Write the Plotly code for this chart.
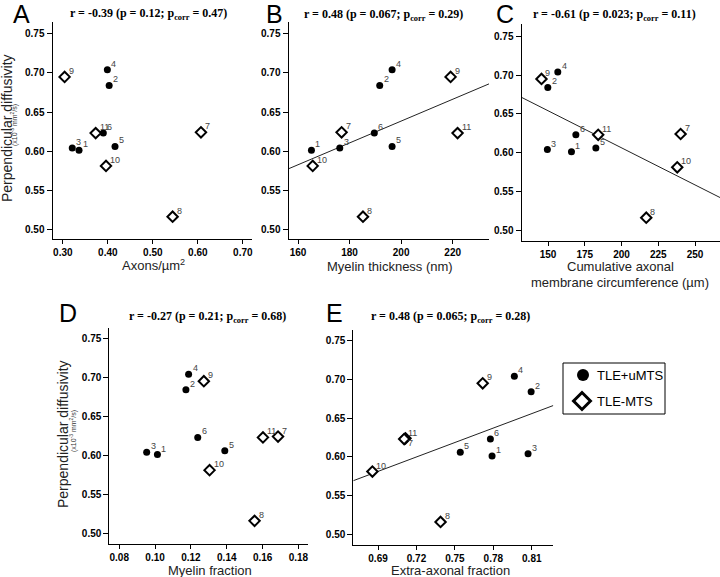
import numpy as np
import plotly.graph_objects as go

# ---------------- data ----------------
ids = [1, 2, 3, 4, 5, 6, 7, 8, 9, 10, 11]
group = ["TLE+uMTS"] * 6 + ["TLE-MTS"] * 5
perp_diff = [0.601, 0.684, 0.604, 0.704, 0.606, 0.623, 0.624, 0.516, 0.695, 0.581, 0.623]

axons_density = [0.336, 0.403, 0.321, 0.399, 0.416, 0.390, 0.607, 0.544, 0.304, 0.396, 0.373]
myelin_thickness = [165.2, 191.7, 176.2, 196.5, 196.5, 189.6, 176.9, 185.2, 219.2, 165.7, 221.9]
axonal_circumference = [165.9, 149.8, 149.5, 156.6, 182.5, 168.9, 240.2, 216.8, 145.5, 237.9, 184.1]
myelin_fraction = [0.1013, 0.1172, 0.0953, 0.1187, 0.1389, 0.1238, 0.1686, 0.1555, 0.1272, 0.1304, 0.1602]
extra_axonal_fraction = [0.779, 0.8095, 0.8071, 0.7964, 0.7542, 0.7777, 0.7114, 0.7388, 0.7717, 0.6856, 0.7104]

panel_letters = ["A", "B", "C", "D", "E"]
stats_titles = [
    "r = -0.39 (p = 0.12; p<sub>corr</sub> = 0.47)",
    "r = 0.48 (p = 0.067; p<sub>corr</sub> = 0.29)",
    "r = -0.61 (p = 0.023; p<sub>corr</sub> = 0.11)",
    "r = -0.27 (p = 0.21; p<sub>corr</sub> = 0.68)",
    "r = 0.48 (p = 0.065; p<sub>corr</sub> = 0.28)",
]
x_titles = ["Axons/µm<sup>2</sup>", "Myelin thickness (nm)",
            ["Cumulative axonal", "membrane circumference (µm)"],
            "Myelin fraction", "Extra-axonal fraction"]
y_ticks = [0.50, 0.55, 0.60, 0.65, 0.70, 0.75]
x_ticks = [
    [0.30, 0.40, 0.50, 0.60, 0.70],
    [160, 180, 200, 220],
    [150, 175, 200, 225, 250],
    [0.08, 0.10, 0.12, 0.14, 0.16, 0.18],
    [0.69, 0.72, 0.75, 0.78, 0.81],
]
x_fmt = [".2f", "d", "d", ".2f", ".2f"]
has_fit = [False, True, True, False, True]
xdata = [axons_density, myelin_thickness, axonal_circumference, myelin_fraction, extra_axonal_fraction]
legend_labels = ["TLE+uMTS", "TLE-MTS"]

# ---------------- layout geometry (pixels) ----------------
W, H = 720, 577
def px(x): return x / W
def py(y): return 1 - y / H

dom_x = [(52.5, 252), (288.5, 489), (521.5, 720), (109.3, 308.3), (353.3, 553.3)]
dom_y = [(22, 239), (22, 239), (24, 240.5), (328, 543.5), (330, 545)]
x_ranges = [(0.2771, 0.7204), (156.3, 234.1), (131.9, 267.0), (0.07444, 0.1855), (0.6707, 0.8268)]
y_ranges = [(0.4874, 0.7653), (0.4874, 0.7653), (0.4866, 0.7659), (0.4870, 0.7632), (0.4862, 0.7638)]
letter_pos = [(21, 14), (274, 14), (505, 14), (68, 313), (334, 313)]
title_pos = [(148, 14), (383, 15), (614, 15), (208, 317), (450, 317)]
xtitle_pos = [(153, 265), (390, 266), [(620, 266), (620, 282)], (210, 570), (450, 570)]
ytitle_pos = [((7, 128), (15, 125)), ((63, 434), (73, 431))]
label_override = {(4, 7): dict(yanchor="top", xshift=1, yshift=2)}

fig = go.Figure()
annotations = []
shapes = []
label_font = dict(family="Liberation Sans", size=9, color="#444444")

for k in range(5):
    ax = "" if k == 0 else str(k + 1)
    xa, ya = "x" + ax, "y" + ax
    xs = xdata[k]
    if has_fit[k]:
        slope, icpt = np.polyfit(np.array(xs), np.array(perp_diff), 1)
        xl = np.array(x_ranges[k])
        fig.add_trace(go.Scatter(x=xl, y=slope * xl + icpt, mode="lines",
                                 line=dict(color="#222222", width=1),
                                 xaxis=xa, yaxis=ya, showlegend=False, hoverinfo="skip"))
    for g in legend_labels:
        gx = [x for x, gg in zip(xs, group) if gg == g]
        gy = [y for y, gg in zip(perp_diff, group) if gg == g]
        if g == "TLE+uMTS":
            mk = dict(symbol="circle", size=7, color="black", line=dict(width=0))
        else:
            mk = dict(symbol="diamond", size=8, color="white", line=dict(color="black", width=2))
        fig.add_trace(go.Scatter(x=gx, y=gy, mode="markers", marker=mk, cliponaxis=False,
                                 xaxis=xa, yaxis=ya, showlegend=False))
    for i, x, y in zip(ids, xs, perp_diff):
        opts = dict(xanchor="left", yanchor="bottom", xshift=2, yshift=-1)
        opts.update(label_override.get((k, i), {}))
        annotations.append(dict(x=x, y=y, xref=xa, yref=ya, text=str(i), showarrow=False,
                                font=label_font, **opts))
    axis_common = dict(showline=True, linecolor="black", linewidth=1, ticks="outside",
                       tickcolor="black", tickwidth=1, showgrid=False, zeroline=False,
                       tickfont=dict(family="Liberation Sans", size=10, color="black", weight="bold"))
    fig.update_layout(**{
        ("xaxis" + ax): dict(domain=[px(dom_x[k][0]), px(dom_x[k][1])], range=list(x_ranges[k]),
                             tickvals=x_ticks[k], tickformat=x_fmt[k], anchor=ya, ticklen=4,
                             **axis_common),
        ("yaxis" + ax): dict(domain=[py(dom_y[k][1]), py(dom_y[k][0])], range=list(y_ranges[k]),
                             tickvals=y_ticks, tickformat=".2f", anchor=xa, ticklen=5,
                             **axis_common),
    })
    annotations.append(dict(x=px(letter_pos[k][0]), y=py(letter_pos[k][1]), xref="paper", yref="paper",
                            text=panel_letters[k], showarrow=False, xanchor="center", yanchor="middle",
                            font=dict(family="Liberation Sans", size=25, color="black")))
    annotations.append(dict(x=px(title_pos[k][0]), y=py(title_pos[k][1]), xref="paper", yref="paper",
                            text="<b>" + stats_titles[k] + "</b>", showarrow=False,
                            xanchor="center", yanchor="middle",
                            font=dict(family="Liberation Serif", size=12, color="black")))
    if isinstance(x_titles[k], list):
        for t, p in zip(x_titles[k], xtitle_pos[k]):
            annotations.append(dict(x=px(p[0]), y=py(p[1]), xref="paper", yref="paper", text=t,
                                    showarrow=False, xanchor="center", yanchor="middle",
                                    font=dict(family="Liberation Sans", size=13, color="#222222")))
    else:
        p = xtitle_pos[k]
        annotations.append(dict(x=px(p[0]), y=py(p[1]), xref="paper", yref="paper", text=x_titles[k],
                                showarrow=False, xanchor="center", yanchor="middle",
                                font=dict(family="Liberation Sans", size=13, color="#222222")))

for (tx, ty), (sx, sy) in ytitle_pos:
    annotations.append(dict(x=px(tx), y=py(ty), xref="paper", yref="paper",
                            text="Perpendicular diffusivity", textangle=-90, showarrow=False,
                            xanchor="center", yanchor="middle",
                            font=dict(family="Liberation Sans", size=14, color="#222222")))
    annotations.append(dict(x=px(sx), y=py(sy), xref="paper", yref="paper",
                            text="(x10<sup>-3</sup> mm<sup>2</sup>/s)", textangle=-90, showarrow=False,
                            xanchor="center", yanchor="middle",
                            font=dict(family="Liberation Sans", size=7, color="#333333")))

# legend (manual, own small axis covering only the legend box)
lx0, lx1, ly0, ly1 = 563, 665, 363, 414
shapes.append(dict(type="rect", xref="paper", yref="paper", x0=px(lx0), x1=px(lx1), y0=py(ly1), y1=py(ly0),
                   line=dict(color="black", width=1), fillcolor="rgba(0,0,0,0)"))
fig.add_trace(go.Scatter(x=[20], y=[12], mode="markers", xaxis="x6", yaxis="y6", showlegend=False,
                         cliponaxis=False, marker=dict(symbol="circle", size=12, color="black")))
fig.add_trace(go.Scatter(x=[19], y=[38], mode="markers", xaxis="x6", yaxis="y6", showlegend=False,
                         cliponaxis=False,
                         marker=dict(symbol="diamond", size=13, color="white", line=dict(color="black", width=3))))
for lab, ly in zip(legend_labels, [375, 401]):
    annotations.append(dict(x=px(595), y=py(ly), xref="paper", yref="paper", text=lab, showarrow=False,
                            xanchor="left", yanchor="middle",
                            font=dict(family="Liberation Sans", size=13, color="black")))

fig.update_layout(
    xaxis6=dict(domain=[px(lx0), px(lx1)], range=[0, lx1 - lx0], visible=False, anchor="y6", fixedrange=True),
    yaxis6=dict(domain=[py(ly1), py(ly0)], range=[ly1 - ly0, 0], visible=False, anchor="x6", fixedrange=True),
    width=W, height=H, margin=dict(l=0, r=0, t=0, b=0),
    plot_bgcolor="rgba(0,0,0,0)", paper_bgcolor="white",
    annotations=annotations, shapes=shapes, showlegend=False, hovermode=False,
)

fig.write_html("out.html", config={"displayModeBar": False},
               post_script="document.body.style.margin='0';document.body.style.padding='0';"
                           "document.body.style.overflow='hidden';")
